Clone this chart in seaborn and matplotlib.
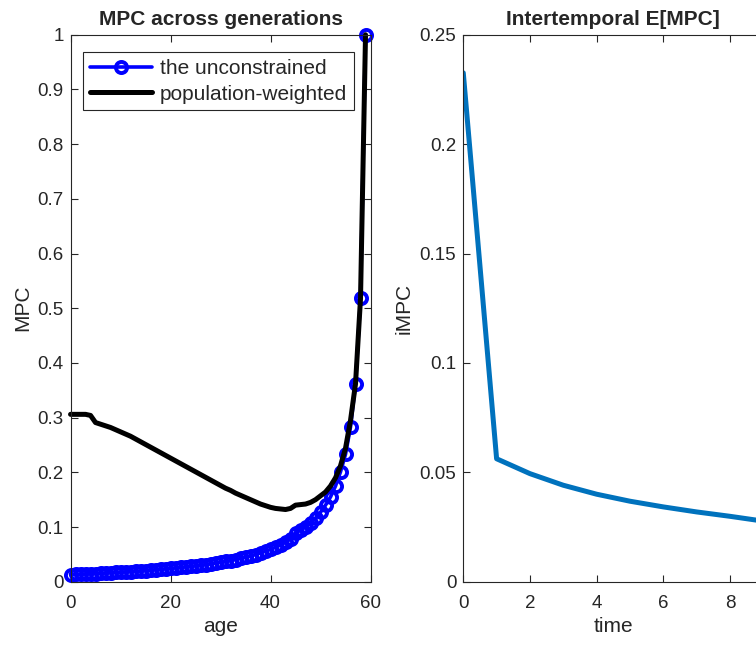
import matplotlib
matplotlib.use("Agg")
import numpy as np
import pandas as pd
import matplotlib.pyplot as plt
import seaborn as sns

# left panel: MPC by age
age = list(range(60))
mpc_unconstrained = [
    0.0130, 0.0134, 0.0138, 0.0142, 0.0146, 0.0150, 0.0155, 0.0160, 0.0165, 0.0170,
    0.0175, 0.0180, 0.0186, 0.0192, 0.0198, 0.0205, 0.0212, 0.0219, 0.0227, 0.0235,
    0.0243, 0.0252, 0.0261, 0.0270, 0.0280, 0.0290, 0.0301, 0.0313, 0.0326, 0.0340,
    0.0355, 0.0370, 0.0387, 0.0405, 0.0425, 0.0447, 0.0470, 0.0496, 0.0525, 0.0557,
    0.0590, 0.0630, 0.0670, 0.0720, 0.0780, 0.0890, 0.0940, 0.1000, 0.1070, 0.1160,
    0.1270, 0.1400, 0.1550, 0.1750, 0.2010, 0.2330, 0.2830, 0.3620, 0.5180, 1.0000,
]
mpc_weighted = [
    0.306, 0.306, 0.306, 0.306, 0.304, 0.291, 0.288, 0.285, 0.282, 0.278,
    0.274, 0.270, 0.266, 0.261, 0.256, 0.251, 0.246, 0.241, 0.236, 0.231,
    0.226, 0.221, 0.216, 0.211, 0.206, 0.201, 0.196, 0.191, 0.186, 0.181,
    0.176, 0.171, 0.167, 0.162, 0.158, 0.154, 0.150, 0.146, 0.142, 0.139,
    0.136, 0.134, 0.133, 0.132, 0.134, 0.140, 0.141, 0.142, 0.145, 0.150,
    0.157, 0.164, 0.175, 0.190, 0.212, 0.244, 0.295, 0.362, 0.518, 1.000,
]

# right panel: intertemporal MPC
time_periods = list(range(10))
impc = [0.2326, 0.0562, 0.0494, 0.0441, 0.0400, 0.0368, 0.0342, 0.0319, 0.0299, 0.0277]

sns.set_style("ticks")
plt.rcParams['font.family'] = ['Liberation Sans', 'DejaVu Sans']
plt.rcParams.update({
    'xtick.direction': 'in', 'ytick.direction': 'in',
    'xtick.top': True, 'ytick.right': True,
    'xtick.major.size': 5, 'ytick.major.size': 5,
    'xtick.major.width': 0.8, 'ytick.major.width': 0.8,
    'xtick.color': '#262626', 'ytick.color': '#262626',
    'xtick.labelsize': 13.5, 'ytick.labelsize': 13.5,
    'xtick.major.pad': 9.5, 'ytick.major.pad': 5,
    'axes.edgecolor': '#262626', 'axes.linewidth': 0.8,
})

fig = plt.figure(figsize=(7.56, 6.47), dpi=100)
ax1 = fig.add_axes([0.0933, 0.1009, 0.3968, 0.8454])
ax2 = fig.add_axes([0.6128, 0.1009, 0.3968, 0.8454])

df_age = pd.DataFrame({"age": age, "unc": mpc_unconstrained, "pop": mpc_weighted})
sns.lineplot(data=df_age, x="age", y="unc", ax=ax1, color="blue", lw=2.6,
             marker="o", markersize=8, markerfacecolor="none", clip_on=False,
             markeredgecolor="blue", markeredgewidth=2.8, label="the unconstrained")
sns.lineplot(data=df_age, x="age", y="pop", ax=ax1, color="black", lw=3.6,
             clip_on=False, label="population-weighted")
ax1.set_xlim(0, 60)
ax1.set_ylim(0, 1)
ax1.set_xticks([0, 20, 40, 60])
yt = np.round(np.arange(0, 1.01, 0.1), 2)
ax1.set_yticks(yt)
ax1.set_yticklabels(["%g" % v for v in yt])
ax1.set_xlabel("age", fontsize=15, color='#262626', labelpad=4)
ax1.set_ylabel("MPC", fontsize=15, color='#262626')
ax1.set_title("MPC across generations", fontsize=15, fontweight="bold", pad=7)
leg = ax1.legend(loc="upper left", bbox_to_anchor=(0.042, 0.968), borderaxespad=0,
                 fontsize=15, fancybox=False, framealpha=1, edgecolor='#262626',
                 handlelength=3.0, handletextpad=0.35, borderpad=0.32, labelspacing=0.32)
leg.get_frame().set_linewidth(0.8)

df_t = pd.DataFrame({"time": time_periods, "impc": impc})
sns.lineplot(data=df_t, x="time", y="impc", ax=ax2, color="#0072BD", lw=3.6)
ax2.set_xlim(0, 9)
ax2.set_ylim(0, 0.25)
ax2.set_xticks([0, 2, 4, 6, 8])
yt2 = [0, 0.05, 0.1, 0.15, 0.2, 0.25]
ax2.set_yticks(yt2)
ax2.set_yticklabels(["%g" % v for v in yt2])
ax2.set_xlabel("time", fontsize=15, color='#262626', labelpad=4)
ax2.set_ylabel("iMPC", fontsize=15, color='#262626')
ax2.set_title("Intertemporal E[MPC]", fontsize=15, fontweight="bold", pad=7)

for ax in (ax1, ax2):
    for s in ax.spines.values():
        s.set_visible(True)

fig.savefig("out.png", dpi=100)
